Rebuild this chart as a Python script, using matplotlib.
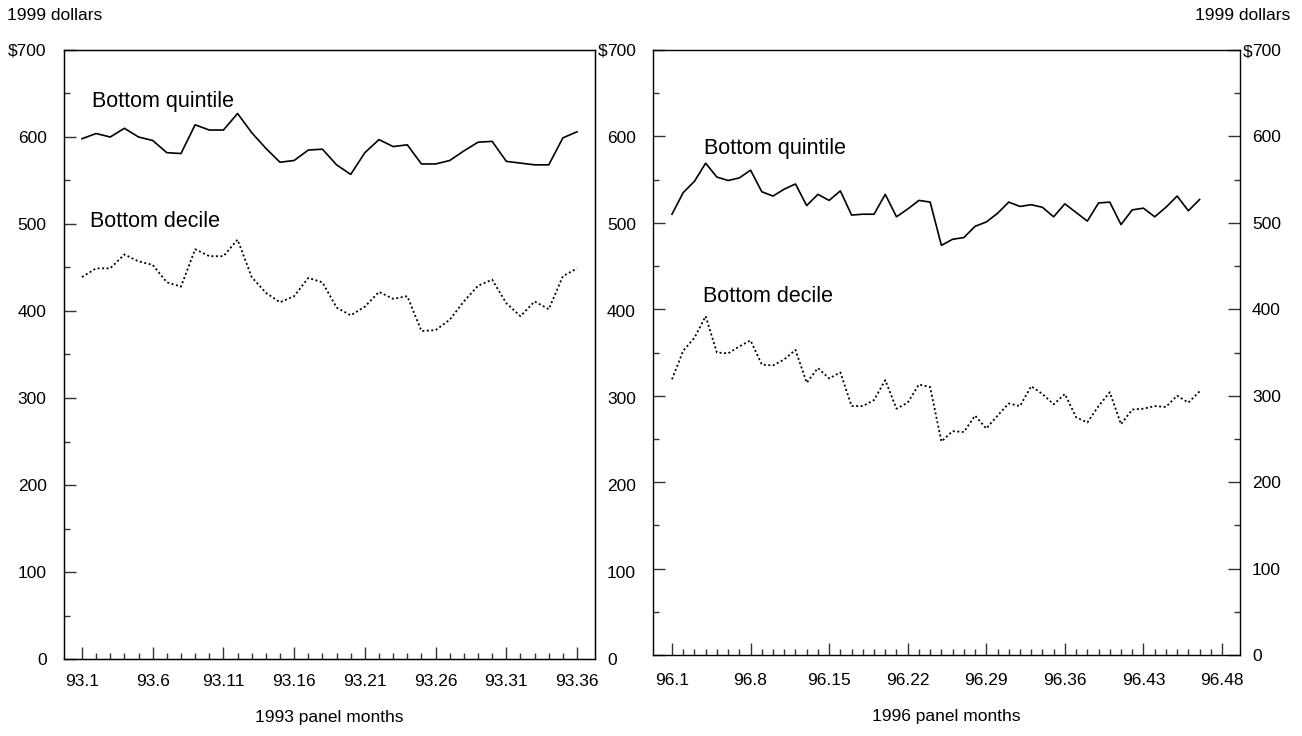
import numpy as np
import matplotlib
matplotlib.use("Agg")
import matplotlib.pyplot as plt

plt.rcParams['font.family'] = ['Liberation Sans', 'DejaVu Sans']

# 1993 panel, months 1..36
m93 = np.arange(1, 37)
q93 = [598, 604, 600, 610, 600, 596, 582, 581, 614, 608, 608, 627,
       605, 587, 571, 573, 585, 586, 568, 557, 582, 597, 589, 591,
       569, 569, 573, 584, 594, 595, 572, 570, 568, 568, 599, 606]
d93 = [439, 449, 449, 465, 457, 453, 433, 428, 471, 463, 463, 482,
       439, 421, 410, 417, 438, 433, 404, 395, 405, 422, 414, 417,
       377, 378, 390, 411, 429, 436, 409, 394, 411, 402, 440, 449]

# 1996 panel, months 1..48
m96 = np.arange(1, 49)
q96 = [510, 535, 548, 569, 553, 549, 552, 561, 536, 531, 539, 545,
       520, 533, 526, 537, 509, 510, 510, 533, 507, 516, 526, 524,
       474, 481, 483, 496, 501, 511, 524, 519, 521, 518, 507, 522,
       512, 502, 523, 524, 498, 515, 517, 507, 518, 531, 514, 527]
d96 = [319, 352, 367, 392, 350, 349, 357, 364, 336, 335, 342, 353,
       315, 332, 320, 327, 288, 288, 295, 318, 285, 292, 313, 310,
       247, 259, 258, 277, 262, 277, 291, 288, 311, 302, 290, 302,
       275, 269, 288, 304, 267, 284, 285, 288, 287, 300, 292, 305]

ticks93 = [1, 6, 11, 16, 21, 26, 31, 36]
labels93 = ['93.1', '93.6', '93.11', '93.16', '93.21', '93.26', '93.31', '93.36']
ticks96 = [1, 8, 15, 22, 29, 36, 43, 50]
labels96 = ['96.1', '96.8', '96.15', '96.22', '96.29', '96.36', '96.43', '96.48']

yticks = [0, 100, 200, 300, 400, 500, 600, 700]
ylabels = ['0', '100', '200', '300', '400', '500', '600', r'\$700']
ylabels_r = ['0', '100', '200', '300', '400', '500', '600', '700']

W, H = 1302, 736
fig = plt.figure(figsize=(W / 100, H / 100), dpi=100)

ax1 = fig.add_axes([64 / W, 1 - 659 / H, (595 - 64) / W, (659 - 50) / H])
ax2 = fig.add_axes([653 / W, 1 - 655 / H, (1240 - 653) / W, (655 - 50) / H])

fs = 12.5
for ax in (ax1, ax2):
    ax.set_ylim(0, 700)
    ax.set_yticks(yticks)
    ax.set_yticks(np.arange(50, 700, 100), minor=True)
    ax.tick_params(axis='both', which='major', direction='in', length=8.6,
                   width=1, labelsize=fs, color='#333333')
    ax.tick_params(axis='both', which='minor', direction='in', length=4.3,
                   width=1, color='#333333')
    ax.tick_params(axis='y', which='both', left=True, right=True)
    for s in ax.spines.values():
        s.set_linewidth(1)

ax1.plot(m93, q93, color='black', lw=1.2)
ax1.plot(m93, d93, color='black', lw=1.3, linestyle=(0, (1.1, 1.4)))
ax1.set_xlim(1 - 1.27, 36 + 1.27)
ax1.set_xticks(ticks93)
ax1.set_xticklabels(labels93)
ax1.set_xticks(m93, minor=True)
ax1.set_yticklabels(ylabels)
ax1.tick_params(axis='y', which='major', pad=12.5, labelleft=True, labelright=False)
ax1.tick_params(axis='x', which='major', pad=11)
ax1.set_xlabel('1993 panel months', fontsize=fs, labelpad=15)
ax1.text(1.7, 635, 'Bottom quintile', fontsize=15.5, va='baseline')
ax1.text(1.6, 496, 'Bottom decile', fontsize=15.5, va='baseline')

# labels between the panels
ax1r = ax1.twinx()
ax1r.set_ylim(0, 700)
ax1r.set_yticks(yticks)
ax1r.set_yticklabels(ylabels_r)
ax1r.tick_params(axis='y', which='major', length=0, pad=8.6, labelsize=fs)

ax2.plot(m96, q96, color='black', lw=1.2)
ax2.plot(m96, d96, color='black', lw=1.3, linestyle=(0, (1.1, 1.4)))
ax2.set_xlim(1 - 1.69, 50 + 1.6)
ax2.set_xticks(ticks96)
ax2.set_xticklabels(labels96)
ax2.set_xticks(np.arange(1, 51), minor=True)
ax2.set_yticklabels(ylabels_r)
ax2.tick_params(axis='y', which='major', pad=8.6, labelleft=False, labelright=True)
ax2.tick_params(axis='x', which='major', pad=13)
ax2.set_xlabel('1996 panel months', fontsize=fs, labelpad=15)
ax2.text(3.85, 580, 'Bottom quintile', fontsize=15.5, va='baseline')
ax2.text(3.76, 408, 'Bottom decile', fontsize=15.5, va='baseline')

# "$" hanging in front of the right-hand 700 labels
for ax in (ax1, ax2):
    ax.annotate('$', xy=(1, 700), xycoords=('axes fraction', 'data'),
                xytext=(8.6, 0), textcoords='offset points',
                ha='right', va='center_baseline', fontsize=fs)

fig.text(7 / W, 1 - 16 / H, '1999 dollars', fontsize=fs, va='center', ha='left')
fig.text(1290 / W, 1 - 16 / H, '1999 dollars', fontsize=fs, va='center', ha='right')

fig.savefig('out.png', dpi=100)
